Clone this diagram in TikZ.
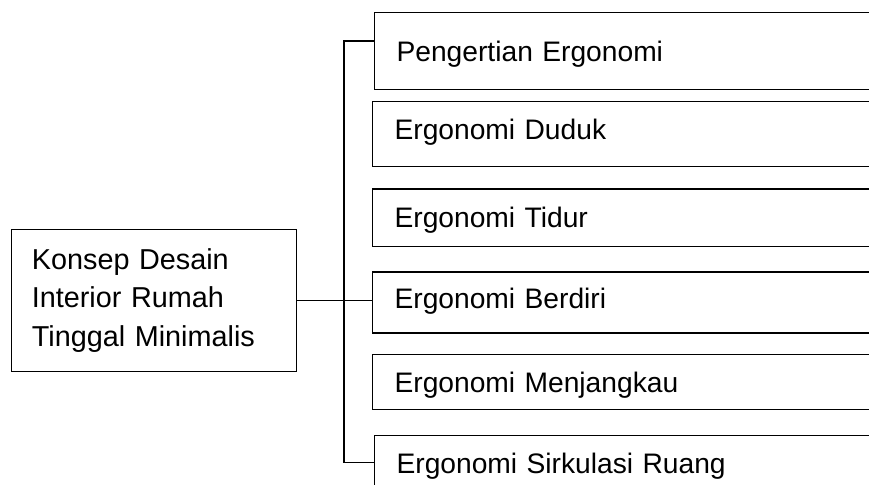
\documentclass[tikz,border=0pt]{standalone}
\usepackage{fontspec}
\setmainfont{Liberation Sans}
\begin{document}
\begin{tikzpicture}[x=0.75pt,y=-0.75pt,
  line width=1pt,
  every node/.style={font=\fontsize{21.15pt}{29.14pt}\selectfont},
  rootbox/.style={draw, anchor=north west, text width=183.2pt, align=left,
    inner xsep=15.15pt, inner ysep=0pt, minimum height=106.3pt,
    font=\fontsize{21.6pt}{29.14pt}\selectfont},
  topic/.style={draw, anchor=north west, text width=420pt, align=left,
    inner xsep=16.8pt, inner ysep=0pt, text height=15.14pt, text depth=0pt},
  link/.style={line width=1pt}
]
\useasboundingbox (0,0) rectangle (869,485);
\clip (0,0) rectangle (869,485);

% main concept
\node[rootbox] (root) at (11,229)
  {Konsep Desain\\Interior Rumah\\Tinggal Minimalis};

% topic boxes (they run past the right edge)
\node[topic, minimum height=58pt]    (b1) at (373.5,11.7)  {Pengertian Ergonomi};
\node[topic, minimum height=48.75pt, text depth=6.45pt] (b2) at (371.5,100.7) {Ergonomi Duduk};
\node[topic, minimum height=43.05pt] (b3) at (371.5,188.3) {Ergonomi Tidur};
\node[topic, minimum height=45.75pt, text depth=5.4pt]  (b4) at (371.5,271.3) {Ergonomi Berdiri};
\node[topic, minimum height=41pt]    (b5) at (371.5,354)   {Ergonomi Menjangkau};
\node[topic, minimum height=42.3pt]  (b6) at (373.5,435)   {Ergonomi Sirkulasi Ruang};

% bracket connecting the topics
\coordinate (jt) at (344,41);
\coordinate (jb) at (344,462.7);
\draw[link] (jt -| b1.west) -- (jt) -- (jb) -- (jb -| b6.west);
\draw[link] (root.east) -- (root.east -| b4.west);
\end{tikzpicture}
\end{document}
